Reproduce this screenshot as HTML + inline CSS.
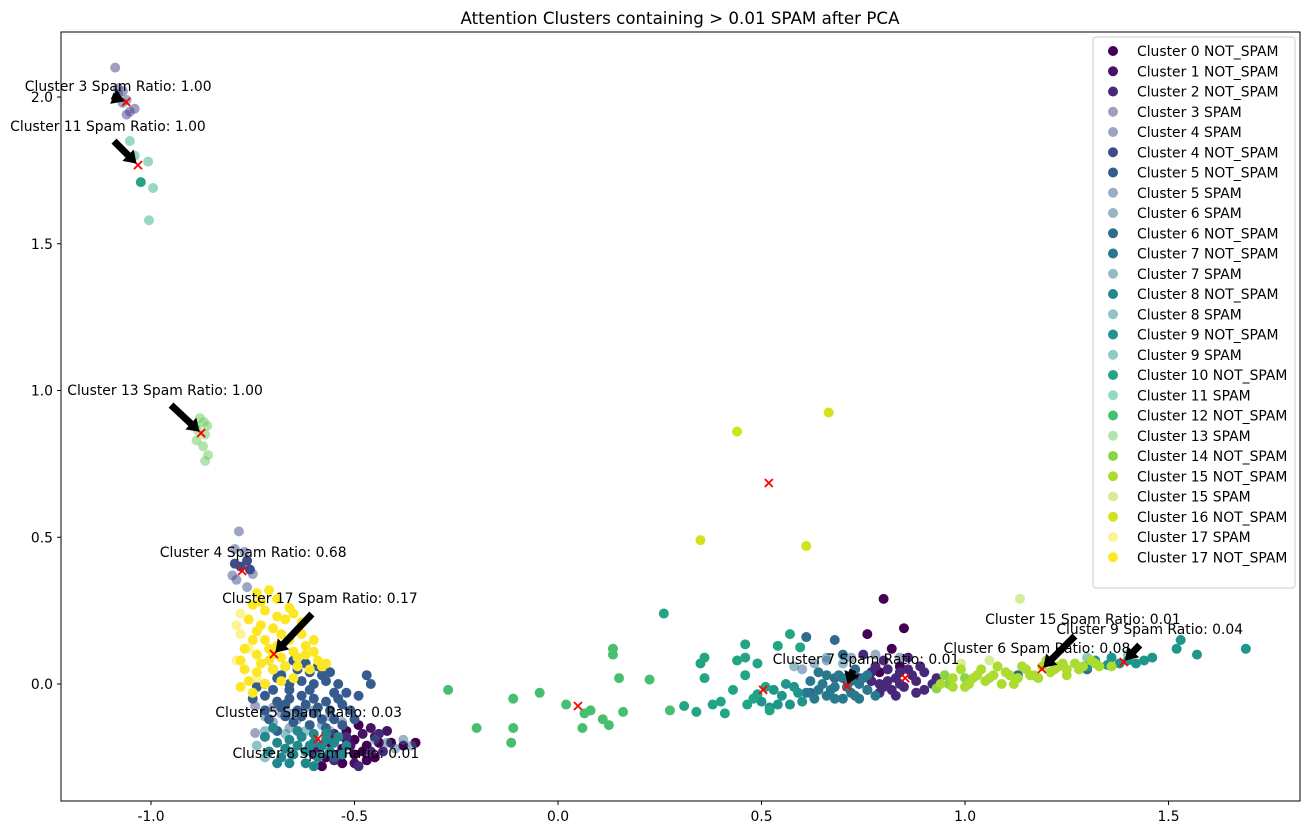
<!DOCTYPE html>
<html><head><meta charset="utf-8"><style>
body{margin:0;background:#fff;}
svg{display:block;font-family:"DejaVu Sans","Liberation Sans",sans-serif;}
</style></head><body>
<svg id="chart" width="1309" height="836" xmlns="http://www.w3.org/2000/svg">
<text x="680" y="24" text-anchor="middle" font-size="16.7">Attention Clusters containing &gt; 0.01 SPAM after PCA</text>
<g id="marks"></g>
<g id="centers"></g>
<g id="annots"></g>
<rect x="61" y="32" width="1239" height="769" fill="none" stroke="#000" stroke-width="1"/>
<g id="xticks"></g><g id="yticks"></g>
<g id="legend"></g>
</svg>
<script>
const xTicks=[-1.0,-0.5,0.0,0.5,1.0,1.5];
const yTicks=[-0.0,0.5,1.0,1.5,2.0];
const seriesNames=["Cluster 0 NOT_SPAM","Cluster 1 NOT_SPAM","Cluster 2 NOT_SPAM","Cluster 3 SPAM","Cluster 4 SPAM","Cluster 4 NOT_SPAM","Cluster 5 NOT_SPAM","Cluster 5 SPAM","Cluster 6 SPAM","Cluster 6 NOT_SPAM","Cluster 7 NOT_SPAM","Cluster 7 SPAM","Cluster 8 NOT_SPAM","Cluster 8 SPAM","Cluster 9 NOT_SPAM","Cluster 9 SPAM","Cluster 10 NOT_SPAM","Cluster 11 SPAM","Cluster 12 NOT_SPAM","Cluster 13 SPAM","Cluster 14 NOT_SPAM","Cluster 15 NOT_SPAM","Cluster 15 SPAM","Cluster 16 NOT_SPAM","Cluster 17 SPAM","Cluster 17 NOT_SPAM"];
const seriesCluster=[0,1,2,3,4,4,5,5,6,6,7,7,8,8,9,9,10,11,12,13,14,15,15,16,17,17];
const clusterColors=["#440154","#471365","#482878","#433e85","#3e4c8a","#365c8d","#2f6b8e","#29798e","#23888e","#1f958b","#21a585","#2eb37c","#46c06f","#65cb5e","#89d548","#addc30","#d2e21b","#fde725"];
const s0=[[-0.56,-0.20],[-0.53,-0.22],[-0.50,-0.19],[-0.47,-0.21],[-0.44,-0.20],[-0.41,-0.20],[-0.38,-0.21],[-0.35,-0.20],[-0.50,-0.24],[-0.47,-0.26],[-0.53,-0.27],[-0.57,-0.25],[-0.49,-0.14],[-0.52,-0.16],[-0.48,-0.23],[-0.45,-0.25],[-0.58,-0.28],[0.80,0.29],[0.85,0.19],[0.76,0.17],[0.82,0.12],[0.79,0.04],[0.84,0.06]];
const s1=[[-0.55,-0.17],[-0.52,-0.19],[-0.48,-0.17],[-0.45,-0.18],[-0.42,-0.16],[-0.59,-0.22],[-0.51,-0.21],[-0.46,-0.15],[-0.54,-0.24],[-0.50,-0.27]];
const s2=[[-0.46,-0.23],[-0.43,-0.23],[-0.49,-0.28],[-0.55,-0.26],[-0.60,-0.24],[-0.52,-0.18],[-0.44,-0.17],[0.74,0.02],[0.77,0.04],[0.79,0.0],[0.81,0.05],[0.83,0.02],[0.86,0.05],[0.88,0.01],[0.90,0.04],[0.92,0.0],[0.76,-0.02],[0.79,-0.03],[0.82,-0.02],[0.85,-0.01],[0.88,-0.03],[0.80,0.08],[0.86,0.09],[0.84,0.0],[0.90,-0.02],[0.78,0.06],[0.75,0.10],[0.81,0.01],[0.87,0.03],[0.83,-0.04],[0.77,0.01],[0.89,0.06],[0.93,0.02],[0.80,-0.01],[0.84,0.04]];
const s3=[[-1.088,2.10],[-1.081,2.03],[-1.069,2.02],[-1.052,1.95],[-1.04,1.96],[-1.06,1.94]];
const s4=[[-0.784,0.52],[-0.794,0.46],[-0.77,0.45],[-0.80,0.37],[-0.79,0.355],[-0.75,0.375],[-0.764,0.33],[-0.744,-0.075],[-0.744,-0.167]];
const s5=[[-0.794,0.41],[-0.78,0.40],[-0.764,0.42],[-0.757,0.39]];
const s6=[[-0.47,0.03],[-0.46,0.0],[-0.75,-0.05],[-0.72,-0.04],[-0.69,-0.06],[-0.66,-0.05],[-0.63,-0.04],[-0.60,-0.05],[-0.57,-0.06],[-0.72,0.0],[-0.69,0.02],[-0.66,0.0],[-0.63,0.01],[-0.60,0.0],[-0.57,0.01],[-0.54,0.0],[-0.70,0.05],[-0.67,0.06],[-0.64,0.05],[-0.61,0.04],[-0.72,-0.09],[-0.68,-0.08],[-0.64,-0.09],[-0.60,-0.10],[-0.56,-0.09],[-0.53,-0.07],[-0.52,-0.03],[-0.49,-0.04],[-0.65,-0.13],[-0.61,-0.14],[-0.57,-0.15],[-0.53,-0.14],[-0.50,-0.12],[-0.69,-0.16],[-0.66,-0.02],[-0.58,0.03],[-0.70,-0.02],[-0.67,-0.07],[-0.62,-0.07],[-0.59,-0.08],[-0.55,-0.03],[-0.62,0.07],[-0.65,0.08],[-0.59,0.06],[-0.74,-0.01],[-0.71,-0.12],[-0.67,-0.11],[-0.63,-0.11],[-0.58,-0.12],[-0.55,-0.12],[-0.51,-0.09],[-0.56,0.04],[-0.68,0.03],[-0.61,-0.02],[-0.54,-0.05]];
const s7=[[-0.72,-0.11],[-0.68,-0.10],[-0.64,-0.12],[-0.60,-0.09],[-0.56,-0.11],[-0.53,-0.13],[-0.62,-0.08],[-0.66,-0.10],[-0.70,-0.08],[-1.08,2.01],[-1.07,1.98],[0.60,0.05],[0.66,0.08],[0.72,0.09],[0.78,0.10],[0.84,0.09]];
const s8=[[-0.70,-0.13],[-0.66,-0.15],[-0.58,-0.14],[-1.06,1.99],[0.63,0.07],[-0.45,-0.19],[-0.40,-0.22],[-0.36,-0.21],[-0.42,-0.20],[-0.38,-0.19]];
const s9=[[0.61,0.16],[0.68,0.15],[0.70,0.10],[0.73,0.05],[0.68,0.02],[0.62,-0.03],[1.13,0.03],[1.30,0.05]];
const s10=[[0.62,0.01],[0.64,-0.02],[0.66,-0.04],[0.68,-0.01],[0.70,-0.05],[0.72,-0.03],[0.74,-0.05],[0.76,-0.02],[0.66,0.03],[0.70,0.02],[0.64,0.04],[0.72,0.01],[0.68,-0.05],[0.74,0.0],[0.78,-0.04],[0.63,-0.05],[0.76,0.03],[0.65,0.0],[0.69,0.03],[0.71,-0.01],[0.67,-0.02],[0.73,-0.04],[0.61,-0.03],[0.75,0.02]];
const s11=[[0.58,0.06],[0.70,0.07],[0.66,0.09]];
const s12=[[-0.72,-0.18],[-0.69,-0.20],[-0.66,-0.19],[-0.63,-0.18],[-0.60,-0.20],[-0.57,-0.19],[-0.54,-0.18],[-0.71,-0.23],[-0.68,-0.25],[-0.65,-0.24],[-0.62,-0.23],[-0.59,-0.25],[-0.56,-0.23],[-0.66,-0.27],[-0.62,-0.27],[-0.58,-0.21],[-0.70,-0.15],[-0.52,-0.21],[-0.67,-0.22],[-0.64,-0.21],[-0.61,-0.21],[-0.55,-0.20],[-0.69,-0.27],[-0.60,-0.28],[-0.64,-0.16],[-0.60,-0.17],[-0.57,-0.17],[-0.53,-0.24]];
const s13=[[-0.72,-0.16],[-0.67,-0.17],[-0.62,-0.16],[-0.56,-0.16],[-0.74,-0.21],[-0.64,-0.21],[-0.55,-0.25],[-0.72,-0.25],[-0.66,-0.23],[-0.58,-0.24]];
const s14=[[0.50,-0.06],[0.53,-0.02],[0.55,-0.04],[0.57,-0.07],[0.59,-0.03],[0.56,0.0],[0.52,-0.08],[0.60,-0.06],[0.54,-0.07],[0.58,-0.01],[1.35,0.065],[1.38,0.07],[1.40,0.08],[1.42,0.07],[1.46,0.09],[1.52,0.12],[1.53,0.15],[1.57,0.10],[1.69,0.12],[1.36,0.09],[1.30,0.06],[1.32,0.08],[1.44,0.08]];
const s15=[[1.40,0.10],[1.30,0.09]];
const s16=[[-1.025,1.71],[0.26,0.24],[0.35,0.07],[0.31,-0.075],[0.34,-0.095],[0.38,-0.07],[0.41,-0.10],[0.36,0.02],[0.43,-0.02],[0.46,0.135],[0.46,0.09],[0.49,0.07],[0.46,0.03],[0.49,-0.035],[0.465,-0.07],[0.52,-0.09],[0.44,0.08],[0.40,-0.06],[0.57,0.17],[0.54,0.13],[0.595,0.125],[0.36,0.09],[0.48,-0.05],[0.51,-0.01]];
const s17=[[-1.052,1.85],[-1.007,1.78],[-0.995,1.69],[-1.005,1.58],[-1.04,1.80]];
const s18=[[-0.27,-0.02],[-0.20,-0.15],[-0.11,-0.05],[-0.11,-0.15],[-0.115,-0.20],[-0.045,-0.03],[0.02,-0.07],[0.06,-0.15],[0.065,-0.10],[0.08,-0.09],[0.11,-0.12],[0.125,-0.14],[0.135,0.12],[0.135,0.10],[0.15,0.02],[0.16,-0.095],[0.225,0.015],[0.275,-0.09]];
const s19=[[-0.88,0.906],[-0.87,0.893],[-0.862,0.88],[-0.885,0.865],[-0.867,0.85],[-0.888,0.83],[-0.872,0.81],[-0.86,0.78],[-0.867,0.76],[-0.89,0.88]];
const s20=[[0.93,-0.015],[0.96,0.0],[1.00,0.02],[0.95,0.03]];
const s21=[[0.94,0.0],[0.97,0.02],[1.0,-0.01],[1.02,0.02],[1.05,0.01],[1.07,0.03],[1.09,0.0],[1.11,0.03],[1.13,0.02],[1.15,0.05],[1.17,0.03],[1.19,0.06],[1.21,0.04],[1.23,0.06],[1.25,0.05],[1.27,0.07],[1.29,0.06],[1.31,0.08],[1.33,0.06],[1.14,0.06],[1.20,0.08],[1.25,0.03],[0.99,0.05],[1.04,0.05],[1.08,0.06],[1.12,0.0],[0.97,-0.01],[1.36,0.06],[1.18,0.02],[1.01,0.0],[1.03,0.03],[1.06,0.02],[1.10,0.04],[1.16,0.03],[1.22,0.05],[1.28,0.05],[1.32,0.07],[1.24,0.07]];
const s22=[[1.135,0.29],[0.99,0.07],[1.06,0.08]];
const s23=[[0.44,0.86],[0.665,0.925],[0.35,0.49],[0.61,0.47]];
const s24=[[-0.78,0.24],[-0.79,0.20],[-0.78,0.17],[-0.79,0.08],[-0.76,0.12],[-0.74,0.02]];
const s25=[[-0.74,0.31],[-0.71,0.32],[-0.75,0.27],[-0.72,0.25],[-0.69,0.23],[-0.76,0.22],[-0.73,0.20],[-0.70,0.19],[-0.67,0.22],[-0.65,0.24],[-0.63,0.21],[-0.75,0.15],[-0.72,0.15],[-0.69,0.13],[-0.66,0.15],[-0.63,0.17],[-0.60,0.15],[-0.74,0.10],[-0.71,0.08],[-0.68,0.09],[-0.65,0.11],[-0.62,0.10],[-0.59,0.08],[-0.77,0.05],[-0.74,0.04],[-0.70,0.05],[-0.67,0.06],[-0.64,0.06],[-0.61,0.05],[-0.58,0.06],[-0.76,0.01],[-0.72,0.00],[-0.68,0.01],[-0.65,0.02],[-0.78,-0.01],[-0.75,-0.03],[-0.73,0.28],[-0.66,0.26],[-0.78,0.08],[-0.62,0.13],[-0.71,0.12],[-0.68,0.17],[-0.73,0.07],[-0.70,0.10],[-0.64,0.09],[-0.77,0.12],[-0.60,0.11],[-0.57,0.07],[-0.69,0.29],[-0.74,0.18]];
const seriesPoints=[s0,s1,s2,s3,s4,s5,s6,s7,s8,s9,s10,s11,s12,s13,s14,s15,s16,s17,s18,s19,s20,s21,s22,s23,s24,s25];
const centerX=[-1.061,-1.032,-0.877,-0.776,-0.698,-0.59,0.049,0.504,0.71,0.853,1.189,1.39,0.518,-0.62];
const centerY=[1.983,1.768,0.855,0.385,0.102,-0.187,-0.075,-0.02,-0.007,0.02,0.051,0.075,0.685,-0.12];
const annotLabels=["Cluster 3 Spam Ratio: 1.00","Cluster 11 Spam Ratio: 1.00","Cluster 13 Spam Ratio: 1.00","Cluster 4 Spam Ratio: 0.68","Cluster 17 Spam Ratio: 0.17","Cluster 5 Spam Ratio: 0.03","Cluster 8 Spam Ratio: 0.01","Cluster 7 Spam Ratio: 0.01","Cluster 6 Spam Ratio: 0.08","Cluster 15 Spam Ratio: 0.01","Cluster 9 Spam Ratio: 0.04"];
const annotTarget=[0,1,2,3,4,13,5,8,10,10,11];

const X0=558,XS=407,Y0=684,YS=293.5;
const xs=v=>X0+v*XS, ys=v=>Y0-v*YS;
const NS="http://www.w3.org/2000/svg";
function mk(t,a,p){const e=document.createElementNS(NS,t);for(const k in a)e.setAttribute(k,a[k]);p.appendChild(e);return e;}
const isSpam=n=>n.indexOf(" SPAM")>=0 && n.indexOf("NOT_SPAM")<0;

const gm=document.getElementById('marks');
seriesPoints.forEach((pts,i)=>{
  const g=mk('g',{},gm);
  
  
  const col=clusterColors[seriesCluster[i]];const op=isSpam(seriesNames[i])?0.5:1;
  pts.forEach(p=>{
    const c=mk('circle',{cx:xs(p[0]),cy:ys(p[1]),r:5,fill:col,'fill-opacity':op},g);
    
    
  });
});
const gc=document.getElementById('centers');
centerX.forEach((v,i)=>{
  if(i===13)return;
  const x=xs(v),y=ys(centerY[i]);
  const p=mk('path',{d:`M${x-4} ${y-4}L${x+4} ${y+4}M${x-4} ${y+4}L${x+4} ${y-4}`,stroke:'#ff0000','stroke-width':1.8},gc);
  
  
});
const offs=[[-8,-16,-14,-6],[-30,-39,-24,-24],[-36,-43,-30,-28],[11,-19,0,0],[46,-56,38,-40],[3,-7,0,0],[8,14,0,0],[19,-27,6,-16],[-5,-21,0,0],[41,-50,33,-33],[26,-33,16,-17]];
const ga=document.getElementById('annots');
annotLabels.forEach((t,i)=>{
  const k=annotTarget[i];const tx=xs(centerX[k]),ty=ys(centerY[k]);const o=offs[i];
  if(o[2]||o[3]){
    const sx=tx+o[2],sy=ty+o[3];const dx=tx-sx,dy=ty-sy,L=Math.hypot(dx,dy),ux=dx/L,uy=dy/L,nx=-uy,ny=ux;
    const hb=L-14;const w=3.5,hw=8;
    const pts=[[sx+nx*w,sy+ny*w],[sx+ux*hb+nx*w,sy+uy*hb+ny*w],[sx+ux*hb+nx*hw,sy+uy*hb+ny*hw],[tx-ux*2,ty-uy*2],[sx+ux*hb-nx*hw,sy+uy*hb-ny*hw],[sx+ux*hb-nx*w,sy+uy*hb-ny*w],[sx-nx*w,sy-ny*w]];
    const a=mk('polygon',{points:pts.map(p=>p.join(',')).join(' '),fill:'#000'},ga);
    
    
  }
  const e=mk('text',{x:tx+o[0],y:ty+o[1]+5,'text-anchor':'middle','font-size':13.9},ga);
  e.textContent=t;
  
  
});
const gx=document.getElementById('xticks');
xTicks.forEach(v=>{const x=xs(v);
  const l=mk('line',{x1:x,x2:x,y1:801,y2:805,stroke:'#000'},gx);
  const t=mk('text',{x:x,y:821,'text-anchor':'middle','font-size':13.9},gx);t.textContent=v.toFixed(1);});
const gy=document.getElementById('yticks');
yTicks.forEach(v=>{const y=ys(v);
  const l=mk('line',{x1:57,x2:61,y1:y,y2:y,stroke:'#000'},gy);
  const t=mk('text',{x:53,y:y+5,'text-anchor':'end','font-size':13.9},gy);t.textContent=(v===0?0:v).toFixed(1);});
const gl=document.getElementById('legend');

mk('rect',{x:1093,y:37,width:202,height:551,rx:3,fill:'#fff','fill-opacity':0.8,stroke:'#ccc'},gl);
seriesNames.forEach((n,i)=>{const y=51+i*20.25;
  const g=mk('g',{},gl);
  mk('circle',{cx:1113,cy:y,r:5,fill:clusterColors[seriesCluster[i]],'fill-opacity':isSpam(n)?0.5:1},g);
  const t=mk('text',{x:1137,y:y+5,'font-size':13.9},g);t.textContent=n;});
</script>
</body></html>
